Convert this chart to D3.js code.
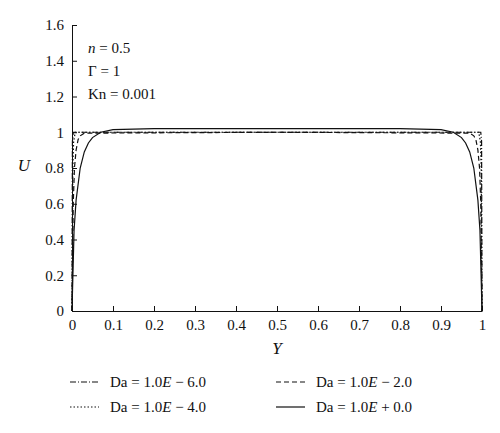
<!DOCTYPE html><html><head><meta charset="utf-8"><script src="https://cdn.jsdelivr.net/npm/d3@7"></script>
<style>body{margin:0;background:#fff}text{font-family:"Liberation Serif",serif;fill:#111}</style></head><body><svg id="c" width="500" height="433"></svg><script>
const xTicks=[0,0.1,0.2,0.3,0.4,0.5,0.6,0.7,0.8,0.9,1];
const yTicks=[0,0.2,0.4,0.6,0.8,1,1.2,1.4,1.6];
const yLabels=["0","0.2","0.4","0.6","0.8","1","1.2","1.4","1.6"];
const y6=[0,0.001,0.003,0.5,0.997,0.999,1];
const u6=[0,0.95,1.0,1.0,1.0,0.95,0];
const y4=[0,0.002,0.004,0.008,0.5,0.992,0.996,0.998,1];
const u4=[0,0.8,0.95,1.0,1.0,1.0,0.95,0.8,0];
const y2=[0,0.003,0.006,0.01,0.015,0.02,0.03,0.5,0.97,0.98,0.985,0.99,0.994,0.997,1];
const u2=[0,0.6,0.8,0.9,0.96,0.98,0.995,1.0,0.995,0.98,0.96,0.9,0.8,0.6,0];
const y0=[0,0.005,0.01,0.02,0.03,0.04,0.05,0.07,0.1,0.2,0.5,0.8,0.9,0.93,0.95,0.96,0.97,0.98,0.99,0.995,1];
const u0=[0,0.45,0.62,0.8,0.89,0.94,0.97,1.0,1.015,1.02,1.02,1.02,1.015,1.0,0.97,0.94,0.89,0.8,0.62,0.45,0];
const series=[
 {name:"Da = 1.0E − 6.0",x:y6,y:u6,dash:"6,2,1,2"},
 {name:"Da = 1.0E − 4.0",x:y4,y:u4,dash:"1.5,2"},
 {name:"Da = 1.0E − 2.0",x:y2,y:u2,dash:"5,3"},
 {name:"Da = 1.0E + 0.0",x:y0,y:u0,dash:null}];
const svg=d3.select("#c");
const x=d3.scaleLinear().domain([0,1]).range([72,482]);
const y=d3.scaleLinear().domain([0,1.6]).range([311,25]);
svg.append("g").attr("transform","translate(0,311)").call(d3.axisBottom(x).tickValues(xTicks).tickFormat(d=>d).tickSizeInner(-5).tickSizeOuter(0).tickPadding(8))
 .call(g=>{g.selectAll("text").attr("font-size",15);g.selectAll("line,path").attr("stroke","#111");});
svg.append("g").attr("transform","translate(72,0)").call(d3.axisLeft(y).tickValues(yTicks).tickFormat((d,i)=>yLabels[i]).tickSizeInner(-5).tickSizeOuter(0).tickPadding(8))
 .call(g=>{g.selectAll("text").attr("font-size",15);g.selectAll("line,path").attr("stroke","#111");});
const line=d3.line().x(d=>x(d[0])).y(d=>y(d[1]));
series.forEach(s=>{svg.append("path").attr("d",line(s.x.map((v,i)=>[v,s.y[i]]))).attr("fill","none").attr("stroke","#111").attr("stroke-width",1.2).attr("stroke-dasharray",s.dash);});
svg.append("text").attr("x",277).attr("y",354).attr("text-anchor","middle").attr("font-size",17).attr("font-style","italic").text("Y");
svg.append("text").attr("x",24).attr("y",171).attr("text-anchor","middle").attr("font-size",17).attr("font-style","italic").text("U");
const ann=svg.append("g").attr("font-size",15);
let t=ann.append("text").attr("x",88).attr("y",53);t.append("tspan").attr("font-style","italic").text("n");t.append("tspan").text(" = 0.5");
ann.append("text").attr("x",88).attr("y",76).text("Γ = 1");
ann.append("text").attr("x",88).attr("y",99).text("Kn = 0.001");
const pos=[[70,387],[70,412],[276,387],[276,412]];
series.forEach((s,i)=>{const [px,py]=pos[i];
 svg.append("line").attr("x1",px).attr("x2",px+29).attr("y1",py-5).attr("y2",py-5).attr("stroke","#111").attr("stroke-width",1.2).attr("stroke-dasharray",s.dash);
 const tx=svg.append("text").attr("x",px+40).attr("y",py).attr("font-size",15);
 const m=s.name.split("E");tx.append("tspan").text(m[0]);tx.append("tspan").attr("font-style","italic").text("E");tx.append("tspan").text(m[1]);});
</script></body></html>
